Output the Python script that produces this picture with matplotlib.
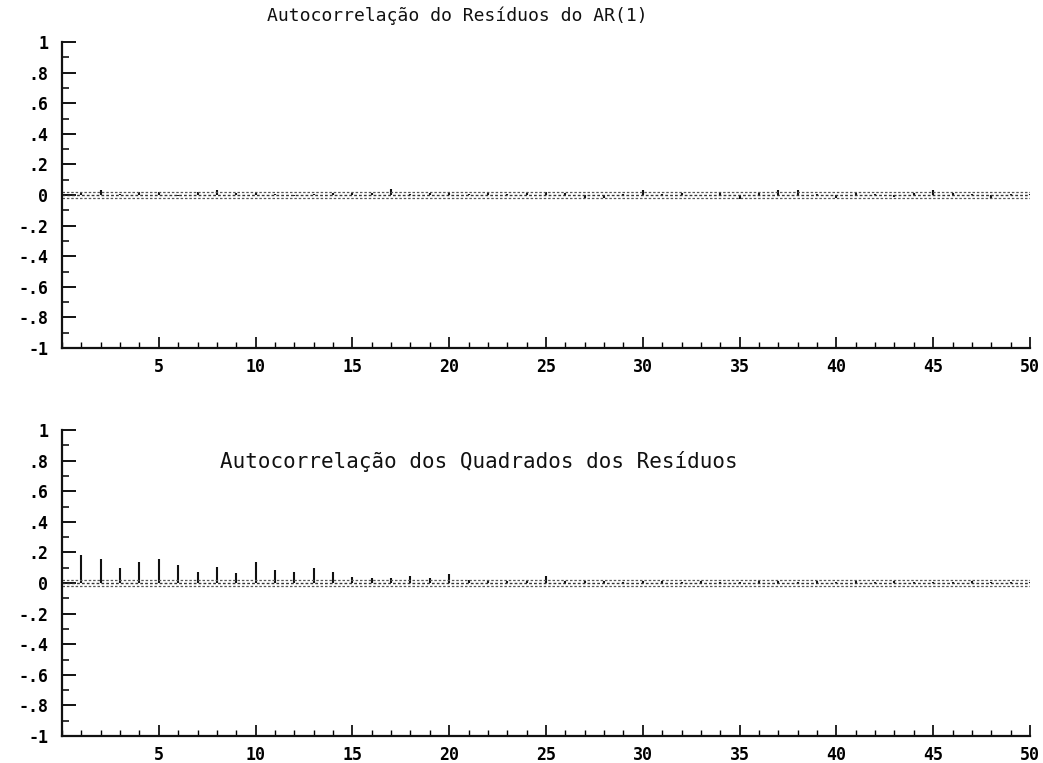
import matplotlib
matplotlib.use("Agg")
import matplotlib.pyplot as plt
from matplotlib.ticker import MultipleLocator, FixedLocator
import numpy as np

lags = list(range(1, 51))

acf_resid = [0.01, 0.03, 0.005, 0.02, 0.02, -0.005, 0.02, 0.035, 0.01, 0.015,
             0.005, -0.005, 0.005, 0.01, 0.015, 0.01, 0.04, 0.005, 0.01, 0.01,
             0.005, 0.01, 0.005, 0.01, 0.02, 0.01, -0.02, -0.02, 0.005, 0.03,
             0.005, 0.01, -0.005, 0.01, -0.025, 0.01, 0.035, 0.03, 0.005, -0.02,
             0.015, 0.005, -0.01, 0.01, 0.035, 0.015, 0.005, -0.025, 0.005, 0.005]

acf_sq = [0.18, 0.157, 0.10, 0.14, 0.157, 0.118, 0.07, 0.107, 0.063, 0.14,
          0.085, 0.074, 0.096, 0.074, 0.04, 0.035, 0.035, 0.045, 0.035, 0.06,
          0.02, 0.02, 0.015, 0.01, 0.045, 0.015, 0.01, 0.015, 0.005, 0.01,
          0.01, 0.005, 0.01, 0.005, 0.005, 0.01, 0.01, 0.005, 0.01, 0.005,
          0.01, 0.005, 0.01, 0.005, 0.005, 0.005, 0.01, 0.005, 0.005, 0.005]

band = 0.02

ytick_vals = [1, 0.8, 0.6, 0.4, 0.2, 0, -0.2, -0.4, -0.6, -0.8, -1]
ytick_labels = ["1", ".8", ".6", ".4", ".2", "0", "-.2", "-.4", "-.6", "-.8", "-1"]
xtick_vals = [5, 10, 15, 20, 25, 30, 35, 40, 45, 50]
xtick_labels = ["5", "10", "15", "20", "25", "30", "35", "40", "45", "50"]

titles = ["Autocorrelação do Resíduos do AR(1)",
          "Autocorrelação dos Quadrados dos Resíduos"]

W, H = 1043, 763
fig = plt.figure(figsize=(W / 100, H / 100), dpi=100)

def frac_axes(x0, x1, ytop, ybot):
    return fig.add_axes([x0 / W, 1 - ybot / H, (x1 - x0) / W, (ybot - ytop) / H])

ax1 = frac_axes(62, 1030, 42, 348)
ax2 = frac_axes(62, 1030, 430, 736)

mono = "DejaVu Sans Mono"

for ax, vals in ((ax1, acf_resid), (ax2, acf_sq)):
    ax.set_xlim(0, 50)
    ax.set_ylim(-1, 1)
    for s in ("top", "right"):
        ax.spines[s].set_visible(False)
    for s in ("left", "bottom"):
        ax.spines[s].set_linewidth(1.6)
        ax.spines[s].set_color("#111111")
    ax.vlines(lags, 0, vals, colors="#111111", linewidth=1.5)
    ax.axhline(0, color="#333333", linewidth=1.0, linestyle=(0, (2, 1.5)))
    ax.axhline(band, color="#555555", linewidth=0.9, linestyle=(0, (2, 1.5)))
    ax.axhline(-band, color="#555555", linewidth=0.9, linestyle=(0, (2, 1.5)))
    ax.yaxis.set_major_locator(FixedLocator(ytick_vals))
    ax.set_yticklabels(ytick_labels, fontfamily=mono, fontweight="bold", fontsize=12)
    ax.yaxis.set_minor_locator(MultipleLocator(0.1))
    ax.xaxis.set_major_locator(FixedLocator(xtick_vals))
    ax.set_xticklabels(xtick_labels, fontfamily=mono, fontweight="bold", fontsize=12)
    ax.xaxis.set_minor_locator(MultipleLocator(1))
    ax.tick_params(axis="y", which="major", direction="in", length=10, width=1.3, pad=10)
    ax.tick_params(axis="y", which="minor", direction="in", length=5, width=1.1)
    ax.tick_params(axis="x", which="major", direction="in", length=8, width=1.2, pad=7)
    ax.tick_params(axis="x", which="minor", direction="in", length=4, width=1.0)

fig.text(457 / W, 1 - 16 / H, titles[0], ha="center", va="center",
         fontfamily=mono, fontsize=13, color="#111111")
fig.text(479 / W, 1 - 462 / H, titles[1], ha="center", va="center",
         fontfamily=mono, fontsize=15, color="#111111")

fig.savefig("out.png", dpi=100, facecolor="white")
